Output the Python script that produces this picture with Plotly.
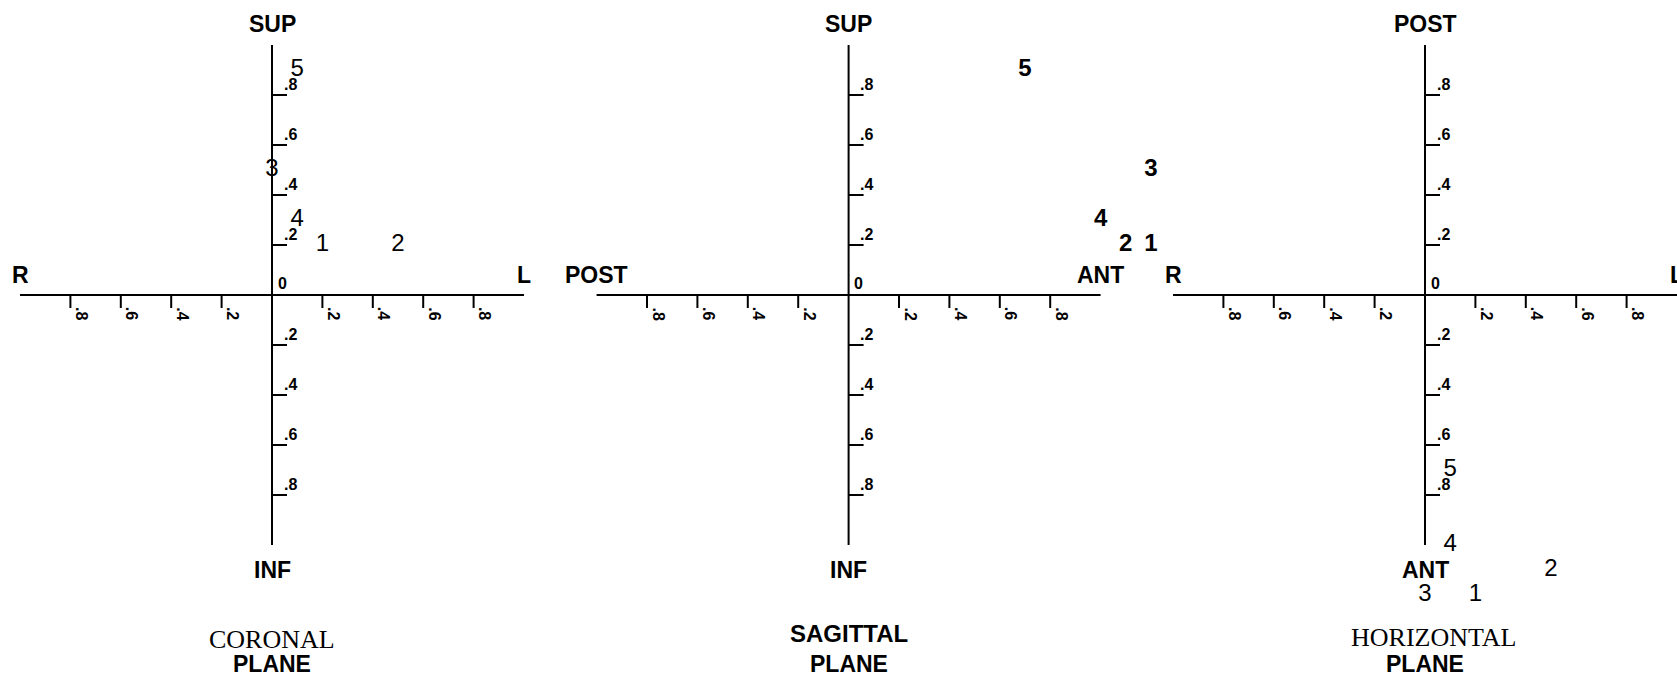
import plotly.graph_objects as go

# Direction cosines of the five numbered vectors
point_ids = ["1", "2", "3", "4", "5"]
left_right = [0.2, 0.5, 0.0, 0.1, 0.1]   # positive = left
ant_post = [1.2, 1.1, 1.2, 1.0, 0.7]     # positive = anterior
sup_inf = [0.2, 0.2, 0.5, 0.3, 0.9]      # positive = superior

tick_values = [0.2, 0.4, 0.6, 0.8]
tick_labels = [".2", ".4", ".6", ".8"]

# figure geometry (pixels)
W, H = 1677, 677
UX, UY = 252, 250          # pixels per unit along x and y
ORIGIN_Y = 295             # pixel row of every horizontal axis

SANS = "Liberation Sans"
SERIF = "Liberation Serif"

panels = [
    dict(x=left_right, y=sup_inf, ox=272, span=(0, 560),
         neg_x="R", pos_x="L", pos_y="SUP", neg_y="INF",
         title="CORONAL", title_font=SERIF, title_weight="normal",
         title_dy=-94, title_dx=0, pts_weight="normal"),
    dict(x=ant_post, y=sup_inf, ox=848.6, span=(560, 1160),
         neg_x="POST", pos_x="ANT", pos_y="SUP", neg_y="INF",
         title="SAGITTAL", title_font=SANS, title_weight="bold",
         title_dy=-88, title_dx=0, pts_weight="bold"),
    # horizontal plane: anterior is drawn downward
    dict(x=left_right, y=[-v for v in ant_post], ox=1425, span=(1160, 1677),
         neg_x="R", pos_x="L", pos_y="POST", neg_y="ANT",
         title="HORIZONTAL", title_font=SERIF, title_weight="normal",
         title_dy=-92, title_dx=8, pts_weight="normal"),
]

fig = go.Figure()
shapes = []
annotations = []
layout_axes = {}

y_range = [-(H - ORIGIN_Y) / UY, ORIGIN_Y / UY]

for i, p in enumerate(panels, start=1):
    xa = "x" if i == 1 else f"x{i}"
    ya = "y" if i == 1 else f"y{i}"
    x0px, x1px = p["span"]
    x_range = [(x0px - p["ox"]) / UX, (x1px - p["ox"]) / UX]
    layout_axes[f"xaxis{'' if i == 1 else i}"] = dict(
        domain=[x0px / W, x1px / W], range=x_range, visible=False,
        fixedrange=True, anchor=ya)
    layout_axes[f"yaxis{'' if i == 1 else i}"] = dict(
        domain=[0, 1], range=y_range, visible=False,
        fixedrange=True, anchor=xa)

    line = dict(color="black", width=2)
    # the two axes
    shapes.append(dict(type="line", xref=xa, yref=ya, x0=-1, x1=1, y0=0, y1=0, line=line))
    shapes.append(dict(type="line", xref=xa, yref=ya, x0=0, x1=0, y0=-1, y1=1, line=line))

    tick_font = dict(family=SANS, size=16, color="black", weight="bold")
    for sign in (-1, 1):
        for v, lab in zip(tick_values, tick_labels):
            # tick on the horizontal axis, hanging below it
            shapes.append(dict(type="line", xref=xa, yref=ya, ysizemode="pixel",
                               yanchor=0, y0=0, y1=-13, x0=sign * v, x1=sign * v,
                               line=line))
            annotations.append(dict(x=sign * v, y=0, xref=xa, yref=ya, text=lab,
                                    showarrow=False, textangle=90, xshift=11,
                                    yshift=-18.5, font=tick_font))
            # tick on the vertical axis, pointing right
            shapes.append(dict(type="line", xref=xa, yref=ya, xsizemode="pixel",
                               xanchor=0, x0=0, x1=15, y0=sign * v, y1=sign * v,
                               line=line))
            annotations.append(dict(x=0, y=sign * v, xref=xa, yref=ya, text=lab,
                                    showarrow=False, xshift=18, yshift=11,
                                    font=tick_font))
    annotations.append(dict(x=0, y=0, xref=xa, yref=ya, text="0", showarrow=False,
                            xshift=10, yshift=12, font=tick_font))

    axis_font = dict(family=SANS, size=23, color="black", weight="bold")
    annotations += [
        dict(x=-1, y=0, xref=xa, yref=ya, text=p["neg_x"], showarrow=False,
             yshift=20, font=axis_font),
        dict(x=1, y=0, xref=xa, yref=ya, text=p["pos_x"], showarrow=False,
             yshift=20, font=axis_font),
        dict(x=0, y=1, xref=xa, yref=ya, text=p["pos_y"], showarrow=False,
             yshift=21.5, font=axis_font),
        dict(x=0, y=-1, xref=xa, yref=ya, text=p["neg_y"], showarrow=False,
             yshift=-24.5, font=axis_font),
        dict(x=0, y=-1, xref=xa, yref=ya, text=p["title"], showarrow=False,
             xshift=p["title_dx"], yshift=p["title_dy"],
             font=dict(family=p["title_font"], size=26 if p["title_font"] == SERIF else 24,
                       color="black", weight=p["title_weight"])),
        dict(x=0, y=-1, xref=xa, yref=ya, text="PLANE", showarrow=False,
             yshift=-119, font=axis_font),
    ]

    fig.add_trace(go.Scatter(
        x=p["x"], y=p["y"], text=point_ids, mode="text", xaxis=xa, yaxis=ya,
        textposition="middle center", cliponaxis=False, hoverinfo="skip",
        textfont=dict(family=SANS, size=24, color="black", weight=p["pts_weight"]),
        showlegend=False))

fig.update_layout(
    width=W, height=H, margin=dict(l=0, r=0, t=0, b=0),
    paper_bgcolor="white", plot_bgcolor="white",
    shapes=shapes, annotations=annotations, showlegend=False,
    **layout_axes)

fig.write_html("out.html", config={"displayModeBar": False})
